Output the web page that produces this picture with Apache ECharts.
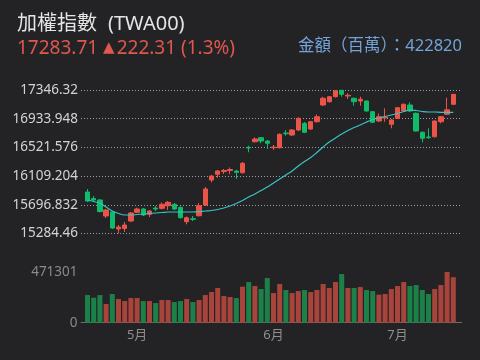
<!DOCTYPE html>
<html><head><meta charset="utf-8">
<script src="https://cdn.jsdelivr.net/npm/echarts/dist/echarts.min.js"></script>
<style>html,body{margin:0;padding:0;background:#232326;}#c{width:480px;height:360px;}</style>
</head><body><div id="c"></div>
<script>
const dates = [
'2023-04-19','2023-04-20','2023-04-21','2023-04-24','2023-04-25','2023-04-26','2023-04-27','2023-04-28',
'2023-05-02','2023-05-03','2023-05-04','2023-05-05','2023-05-08','2023-05-09','2023-05-10','2023-05-11','2023-05-12',
'2023-05-15','2023-05-16','2023-05-17','2023-05-18','2023-05-19','2023-05-22','2023-05-23','2023-05-24','2023-05-25','2023-05-26',
'2023-05-29','2023-05-30','2023-05-31',
'2023-06-01','2023-06-02','2023-06-05','2023-06-06','2023-06-07','2023-06-08','2023-06-09','2023-06-12','2023-06-13','2023-06-14',
'2023-06-15','2023-06-16','2023-06-19','2023-06-20','2023-06-21','2023-06-26','2023-06-27','2023-06-28','2023-06-29','2023-06-30',
'2023-07-03','2023-07-04','2023-07-05','2023-07-06','2023-07-07','2023-07-10','2023-07-11','2023-07-12','2023-07-13','2023-07-14'];

const opens = [15880.6,15787.2,15765.6,15535.7,15593.2,15348.9,15356.1,15463.8,15588.8,15636.3,
15560.1,15650.6,15646.3,15683.7,15703.8,15660.7,15453.8,15496.9,15540.0,15693.7,
16053.0,16134.9,16175.1,16189.5,16182.3,16157.9,16522.9,16603.4,16660.9,16613.4,
16517.2,16517.2,16728.4,16699.6,16771.5,16867.8,16785.9,16890.8,17130.7,17178.2,
17250.0,17342.0,17260.1,17227.0,17188.2,17188.2,17034.5,16900.8,16943.9,16853.4,
16939.6,17044.5,17130.7,17011.5,16738.4,16670.9,16675.2,16890.8,16997.1,17140.8];
const closes = [15751.3,15765.6,15600.4,15621.9,15363.2,15377.6,15406.3,15578.8,15636.3,15550.1,
15607.5,15636.3,15703.8,15732.5,15636.3,15511.3,15511.3,15488.3,15683.7,15923.7,
16110.5,16182.3,16189.5,16203.9,16163.6,16293.0,16512.8,16642.2,16613.4,16580.4,
16527.2,16709.7,16718.3,16771.5,16939.6,16738.4,16890.8,16962.6,17227.0,17250.0,
17336.2,17284.5,17270.1,17178.2,17212.7,17044.5,16882.1,16962.6,16954.0,16915.2,
17092.0,17140.8,17044.5,16757.1,16652.2,16662.3,16900.8,16962.6,17061.40,17283.71];
const lows = [15736.9,15736.9,15586.0,15506.9,15348.9,15284.46,15305.8,15449.5,15578.8,15535.7,
15521.3,15607.5,15629.1,15621.9,15621.9,15499.8,15416.4,15463.8,15528.5,15679.4,
16019.9,16086.1,16139.2,16139.2,16067.4,16146.4,16451.0,16591.9,16580.4,16498.5,
16484.1,16505.7,16689.6,16685.3,16757.1,16728.4,16771.5,16879.3,17116.4,17166.7,
17238.5,17250.0,17217.0,17120.7,17120.7,17037.3,16872.1,16886.5,16890.8,16795.9,
16929.6,17030.2,17030.2,16749.9,16594.7,16642.2,16663.7,16867.8,16987.1,17130.7];
const highs = [15923.7,15823.1,15780.0,15636.3,15607.5,15406.3,15449.5,15593.2,15655.0,15650.6,
15621.9,15679.4,15729.7,15751.3,15722.5,15672.2,15528.5,15535.7,15722.5,15952.4,
16124.8,16196.7,16211.1,16232.6,16196.7,16311.7,16545.9,16663.7,16670.9,16627.8,
16555.9,16721.2,16771.5,16785.9,16951.1,16886.5,16900.8,16994.2,17250.0,17260.1,
17343.4,17346.32,17298.9,17238.5,17250.0,17195.4,17044.5,17008.6,17083.3,16929.6,
17102.0,17152.3,17169.5,17023.0,16749.9,16795.9,16908.0,16972.7,17235.7,17288.8];
const ma = [15765.6,15744.0,15718.2,15665.0,15607.5,15571.6,15550.1,15550.1,15557.2,15564.4,
15571.6,15578.8,15586.0,15593.2,15593.2,15593.2,15593.2,15593.2,15597.5,15607.5,
15614.7,15629.1,15650.6,15679.4,15715.3,15758.4,15808.7,15851.8,15902.1,15952.4,
16009.9,16067.4,16124.8,16182.3,16254.2,16318.8,16376.3,16448.2,16527.2,16599.1,
16656.5,16714.0,16764.3,16807.4,16843.3,16886.5,16922.4,16943.9,16965.5,16987.1,
17008.6,17037.3,17058.9,17051.7,17037.3,17030.2,17030.2,17025.8,17025.8,17025.8];
const volumes = [257200,232400,257200,173500,266500,220000,201400,229300,229300,201400,
201400,182800,210700,210700,192100,201400,220000,192100,210700,257200,
285100,322300,247900,238600,229300,334600,378000,340800,313000,415200,
275800,359400,303700,275800,294400,303700,285100,303700,359400,322300,
378000,452400,322300,322300,331600,303700,294400,260300,266500,313000,
340800,378000,340800,350100,303700,266500,313000,350100,471301,422820];

const FONT = "'Noto Sans', 'Noto Sans CJK TC', sans-serif";
const UP = '#ec5448', DOWN = '#10bb6a', UPV = '#a8443b', DOWNV = '#1b8148';

const yMin = Math.min(...lows), yMax = Math.max(...highs);
const vMax = Math.max(...volumes);
const n = closes.length;
const candleData = opens.map((o, i) => [o, closes[i], lows[i], highs[i]]);
const volData = volumes.map((v, i) => ({value: v, itemStyle: {color: closes[i] >= opens[i] ? UPV : DOWNV}}));
const last = closes[n - 1], prev = closes[n - 2];
const diff = last - prev;
const header = last.toFixed(2) + ' {t|▲}' + diff.toFixed(2) + ' (' + (diff / prev * 100).toFixed(1) + '%)';

const chart = echarts.init(document.getElementById('c'), null, {renderer: 'canvas'});
const wideL = 81, wideR = 20, narL = 84.4, narR = 480 - 84.4 - 372;
const cTop = 90, cH = 143.5, vTop = 272, vH = 50.7;
chart.setOption({
  animation: false,
  backgroundColor: '#232326',
  title: [
    {text: '加權指數{s| }(TWA00)', left: 17, top: 14, padding: 0,
     textStyle: {color: '#e4e4e4', fontSize: 20, fontWeight: 'normal', fontFamily: FONT,
       rich: {s: {width: 11, fontSize: 20}}}},
    {text: header, left: 17, top: 39, padding: 0,
     textStyle: {color: '#e0574c', fontSize: 19, fontWeight: 'normal', fontFamily: FONT,
       rich: {t: {fontFamily: 'DejaVu Sans', fontSize: 15, color: '#e0574c', padding: [0, 2, 0, 0]}}}},
    {text: '金額（百萬）：' + volumes[n - 1], right: 18, top: 38, padding: 0,
     textStyle: {color: '#73a3d8', fontSize: 16.5, fontWeight: 'normal', fontFamily: FONT}}
  ],
  grid: [
    {left: wideL, right: wideR, top: cTop, height: cH},
    {left: narL, right: narR, top: cTop, height: cH},
    {left: wideL, right: 18.5, top: vTop, height: vH},
    {left: narL, right: narR, top: vTop, height: vH}
  ],
  xAxis: [
    {gridIndex: 0, type: 'value', show: false},
    {gridIndex: 1, type: 'category', data: dates, show: false, boundaryGap: true},
    {gridIndex: 2, type: 'value', min: 0, max: 1, axisLine: {show: true, lineStyle: {color: '#6e6e6e', width: 1}},
     axisTick: {show: false}, axisLabel: {show: false}, splitLine: {show: false}},
    {gridIndex: 3, type: 'category', data: dates, boundaryGap: true,
     axisLine: {show: false}, axisTick: {show: false},
     axisLabel: {
       color: '#8e8e8e', fontSize: 13, fontFamily: FONT, margin: 6,
       interval: (idx, val) => idx > 0 && val.slice(5, 7) !== dates[idx - 1].slice(5, 7),
       formatter: (val) => Number(val.slice(5, 7)) + '月'
     }}
  ],
  yAxis: [
    {gridIndex: 0, type: 'value', min: yMin, max: yMax, interval: (yMax - yMin) / 5,
     axisLine: {show: false}, axisTick: {show: false},
     axisLabel: {color: '#d4d4d4', fontSize: 13.5, fontFamily: FONT, margin: 3,
       formatter: v => String(Math.round(v * 1000) / 1000)},
     splitLine: {show: true, lineStyle: {color: '#9c9c9c', width: 1, type: [1, 2]}}},
    {gridIndex: 1, type: 'value', min: yMin, max: yMax, show: false},
    {gridIndex: 2, type: 'value', min: 0, max: vMax, interval: vMax,
     axisLine: {show: false}, axisTick: {show: false}, splitLine: {show: false},
     axisLabel: {color: '#8a8a8a', fontSize: 13.5, fontFamily: FONT, margin: 3.5,
       formatter: v => String(Math.round(v))}},
    {gridIndex: 3, type: 'value', min: 0, max: vMax, show: false}
  ],
  series: [
    {type: 'candlestick', xAxisIndex: 1, yAxisIndex: 1, data: candleData, barWidth: 5,
     itemStyle: {color: UP, color0: DOWN, borderColor: UP, borderColor0: DOWN, borderWidth: 1}},
    {type: 'line', xAxisIndex: 1, yAxisIndex: 1, data: ma, smooth: 0.4, showSymbol: false, z: 5,
     lineStyle: {color: '#38c3c4', width: 1.2}},
    {type: 'bar', xAxisIndex: 3, yAxisIndex: 3, data: volData, barWidth: 5}
  ]
});
</script>
</body></html>
